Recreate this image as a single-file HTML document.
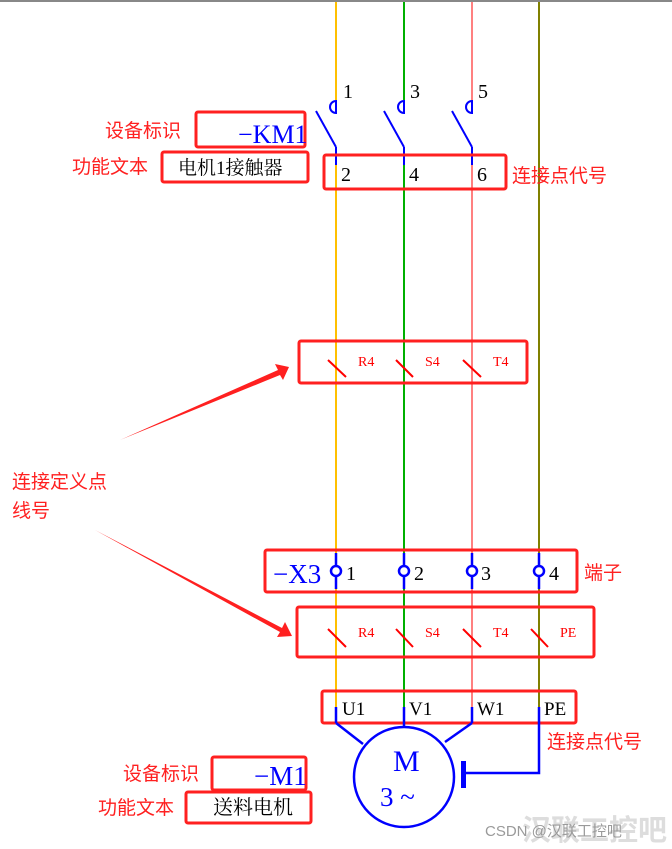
<!DOCTYPE html>
<html><head><meta charset="utf-8"><style>
html,body{margin:0;padding:0;background:#fff;}
svg{display:block;}
.r{font-family:"Liberation Sans","Noto Sans CJK SC",sans-serif;fill:#ff2020;font-size:19px;}
.s{font-family:"Liberation Serif","Noto Serif CJK SC",serif;}
</style></head><body>
<svg width="672" height="849" viewBox="0 0 672 849" xmlns="http://www.w3.org/2000/svg">
<rect x="0" y="0" width="672" height="2" fill="#888"/>
<line x1="336" y1="2" x2="336" y2="707" stroke="#ffc000" stroke-width="2"/>
<line x1="404" y1="2" x2="404" y2="707" stroke="#00b000" stroke-width="2"/>
<line x1="472" y1="2" x2="472" y2="707" stroke="#ff8080" stroke-width="2"/>
<line x1="539" y1="2" x2="539" y2="707" stroke="#808000" stroke-width="2"/>
<g fill="#fff" stroke="none">
<rect x="335" y="100" width="3" height="50"/>
<rect x="403" y="100" width="3" height="50"/>
<rect x="471" y="100" width="3" height="50"/>
</g>
<g fill="none" stroke="#0000ff" stroke-width="2">
<path d="M336 101 A6 6 0 0 0 336 113 Z"/>
<path d="M404 101 A6 6 0 0 0 404 113 Z"/>
<path d="M472 101 A6 6 0 0 0 472 113 Z"/>
<line x1="316" y1="111" x2="336" y2="147"/><line x1="336" y1="147" x2="336" y2="165"/>
<line x1="384" y1="111" x2="404" y2="147"/><line x1="404" y1="147" x2="404" y2="165"/>
<line x1="452" y1="111" x2="472" y2="147"/><line x1="472" y1="147" x2="472" y2="165"/>
</g>
<g class="s" font-size="20" fill="#000">
<text x="343" y="98">1</text><text x="410" y="98">3</text><text x="478" y="98">5</text>
<text x="341" y="181">2</text><text x="409" y="181">4</text><text x="477" y="181">6</text>
</g>
<g fill="none" stroke="#ff2020" stroke-width="3">
<rect x="196" y="112" width="109" height="35" rx="2"/>
<rect x="162" y="152" width="146" height="30" rx="2"/>
<rect x="324" y="155" width="182" height="34" rx="2"/>
<rect x="299" y="341" width="228" height="42" rx="2"/>
<rect x="265" y="550" width="312" height="42" rx="2"/>
<rect x="297" y="607" width="297" height="50" rx="2"/>
<rect x="322" y="691" width="254" height="32" rx="2"/>
<rect x="212" y="757" width="94" height="33" rx="2"/>
<rect x="186" y="792" width="125" height="31" rx="2"/>
</g>
<text class="s" x="238" y="143" font-size="26" fill="#0000ff">−KM1</text>
<text x="178" y="174" font-family="Liberation Serif,'Noto Serif CJK SC',serif" font-size="19" fill="#000">电机1接触器</text>
<text class="r" x="105" y="137">设备标识</text>
<text class="r" x="72" y="173">功能文本</text>
<text class="r" x="512" y="182">连接点代号</text>
<g stroke="#ff0000" stroke-width="2">
<line x1="328" y1="360" x2="346" y2="377"/><line x1="396" y1="360" x2="413" y2="377"/><line x1="463" y1="360" x2="481" y2="377"/>
<line x1="328" y1="629" x2="346" y2="647"/><line x1="396" y1="629" x2="413" y2="647"/><line x1="463" y1="629" x2="481" y2="647"/><line x1="531" y1="629" x2="548" y2="647"/>
</g>
<g class="s" font-size="14" fill="#ff0000">
<text x="358" y="366">R4</text><text x="425" y="366">S4</text><text x="493" y="366">T4</text>
<text x="358" y="637">R4</text><text x="425" y="637">S4</text><text x="493" y="637">T4</text><text x="560" y="637">PE</text>
</g>
<polygon points="120,440 278,370 275,364 289,367 283,380 280,375" fill="#ff2020"/>
<polygon points="95,530 282,628 285,622 292,636 277,637 280,632" fill="#ff2020"/>
<text class="r" x="12" y="488">连接定义点</text>
<text class="r" x="12" y="517">线号</text>
<g stroke="#0000ff" stroke-width="2.5" fill="#fff">
<line x1="336" y1="553" x2="336" y2="589"/><line x1="404" y1="553" x2="404" y2="589"/><line x1="472" y1="553" x2="472" y2="589"/><line x1="539" y1="553" x2="539" y2="589"/>
<circle cx="336" cy="571" r="5"/><circle cx="404" cy="571" r="5"/><circle cx="472" cy="571" r="5"/><circle cx="539" cy="571" r="5"/>
</g>
<text class="s" x="273" y="583" font-size="27" fill="#0000ff">−X3</text>
<g class="s" font-size="20" fill="#000"><text x="346" y="580">1</text><text x="414" y="580">2</text><text x="481" y="580">3</text><text x="549" y="580">4</text></g>
<text class="r" x="584" y="579">端子</text>
<g stroke="#0000ff" stroke-width="2.5" fill="none">
<line x1="336" y1="707" x2="336" y2="723"/><line x1="404" y1="707" x2="404" y2="727"/><line x1="472" y1="707" x2="472" y2="723"/>
<polyline points="539,707 539,773 465,773"/>
<line x1="336" y1="723" x2="363" y2="744"/><line x1="472" y1="723" x2="445" y2="742"/>
<circle cx="404" cy="777" r="50"/>
</g>
<rect x="461" y="761" width="5" height="27" fill="#0000ff"/>
<g class="s" font-size="19" fill="#000"><text x="342" y="715">U1</text><text x="409" y="715">V1</text><text x="477" y="715">W1</text><text x="544" y="715">PE</text></g>
<text class="s" x="393" y="771" font-size="30" fill="#0000ff">M</text>
<text class="s" x="380" y="806" font-size="27" fill="#0000ff">3 ~</text>
<text class="r" x="547" y="748">连接点代号</text>
<text class="s" x="254" y="785" font-size="27" fill="#0000ff">−M1</text>
<text x="213" y="814" font-family="Liberation Serif,'Noto Serif CJK SC',serif" font-size="20" fill="#000">送料电机</text>
<text class="r" x="123" y="780">设备标识</text>
<text class="r" x="98" y="814">功能文本</text>
<text x="522" y="840" font-family="'Noto Sans CJK SC',sans-serif" font-size="29" font-weight="bold" fill="#d8d8d8" opacity="0.85">汉联工控吧</text>
<text x="485" y="836" font-family="'Liberation Sans','Noto Sans CJK SC',sans-serif" font-size="15" fill="#9a9a9a">CSDN @汉联工控吧</text>
</svg>
</body></html>
